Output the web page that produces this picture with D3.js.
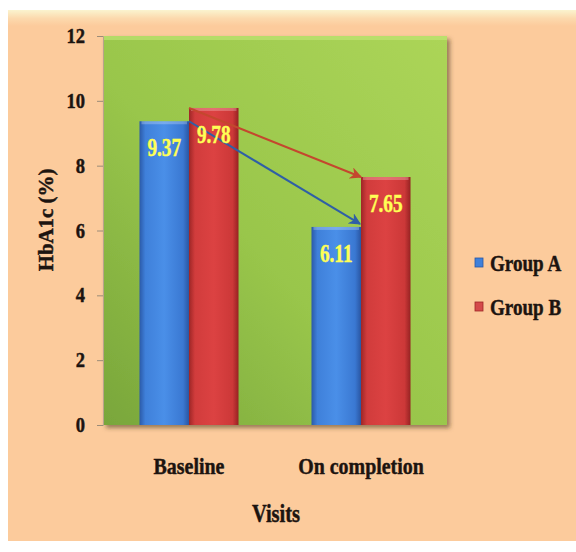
<!DOCTYPE html>
<html>
<head>
<meta charset="utf-8">
<script src="https://cdn.jsdelivr.net/npm/d3@7/dist/d3.min.js"></script>
<style>
  html, body { margin: 0; padding: 0; background: #ffffff; }
  svg { display: block; }
  text { font-family: "Liberation Serif", "Times New Roman", serif; font-weight: bold; }
</style>
</head>
<body>
<svg id="chart" width="576" height="552"></svg>
<script>
// HbA1c by visit and treatment group
const visits = ["Baseline", "On completion"];
const groups = ["Group A", "Group B"];
const groupA = [9.37, 6.11];
const groupB = [9.78, 7.65];
const yTicks = [0, 2, 4, 6, 8, 10, 12];

const W = 576, H = 552;
const plot = { left: 103, right: 447, top: 36, bottom: 425 };

const svg = d3.select("#chart");
const defs = svg.append("defs");

// gradients and shadow
function hGrad(id, stops) {
  const g = defs.append("linearGradient").attr("id", id)
    .attr("x1", "0%").attr("x2", "100%").attr("y1", "0%").attr("y2", "0%");
  stops.forEach(s => g.append("stop").attr("offset", s[0]).attr("stop-color", s[1]));
}
hGrad("gradA", [["0%", "#2b5aa8"], ["12%", "#3f80da"], ["50%", "#4a8fe8"], ["88%", "#3a78d2"], ["100%", "#2a56a2"]]);
hGrad("gradB", [["0%", "#9e2626"], ["12%", "#d13c3c"], ["50%", "#dc4242"], ["88%", "#cc3838"], ["100%", "#962222"]]);

const gGreen = defs.append("linearGradient").attr("id", "gradPlot")
  .attr("x1", "100%").attr("y1", "0%").attr("x2", "0%").attr("y2", "100%");
gGreen.append("stop").attr("offset", "0%").attr("stop-color", "#acd558");
gGreen.append("stop").attr("offset", "55%").attr("stop-color", "#99c64b");
gGreen.append("stop").attr("offset", "100%").attr("stop-color", "#79a63b");

const gPanel = defs.append("linearGradient").attr("id", "gradPanel")
  .attr("x1", "0%").attr("y1", "0%").attr("x2", "0%").attr("y2", "100%");
gPanel.append("stop").attr("offset", "0%").attr("stop-color", "#fbf4cf");
gPanel.append("stop").attr("offset", "1.6%").attr("stop-color", "#fcd9ad");
gPanel.append("stop").attr("offset", "3%").attr("stop-color", "#fccb9c");
gPanel.append("stop").attr("offset", "100%").attr("stop-color", "#fccb9c");

const shadow = defs.append("filter").attr("id", "shadow")
  .attr("x", "-5%").attr("y", "-5%").attr("width", "115%").attr("height", "115%");
shadow.append("feDropShadow").attr("dx", 3).attr("dy", 3).attr("stdDeviation", 2)
  .attr("flood-color", "#4a3a20").attr("flood-opacity", 0.55);

["arrowA", "arrowB"].forEach((id, i) => {
  defs.append("marker").attr("id", id)
    .attr("viewBox", "0 0 10 10").attr("refX", 9).attr("refY", 5)
    .attr("markerWidth", 6).attr("markerHeight", 6).attr("orient", "auto")
    .append("path").attr("d", "M0,0 L10,5 L0,10 L3,5 Z")
    .attr("fill", i === 0 ? "#2f5fa6" : "#c4472e");
});

// background panel
svg.append("rect").attr("x", 8).attr("y", 10).attr("width", W - 8).attr("height", 531)
  .attr("fill", "url(#gradPanel)");

// scales
const x0 = d3.scaleBand().domain(visits).range([plot.left, plot.right]).padding(0);
const x1 = d3.scaleBand().domain(groups).range([0, x0.bandwidth()]).paddingInner(0).paddingOuter(0.737);
const y = d3.scaleLinear().domain([0, 12]).range([plot.bottom, plot.top]);

// plot area
svg.append("rect")
  .attr("x", plot.left).attr("y", plot.top)
  .attr("width", plot.right - plot.left).attr("height", plot.bottom - plot.top)
  .attr("fill", "url(#gradPlot)").attr("filter", "url(#shadow)");
svg.append("rect")
  .attr("x", plot.left).attr("y", plot.top)
  .attr("width", plot.right - plot.left).attr("height", 4)
  .attr("fill", "#c4e87a").attr("opacity", 0.6);

// helper for condensed serif text
function label(g, str, xPos, yPos, size, anchor, sx, fill, rotate) {
  const col = fill || "#1c1410";
  const t = g.append("g")
    .attr("transform", `translate(${xPos},${yPos})` + (rotate ? ` rotate(${rotate})` : "") + ` scale(${sx},1)`);
  t.append("text").attr("text-anchor", anchor).attr("font-size", size)
    .attr("fill", col).attr("stroke", col).attr("stroke-width", 0.45).text(str);
  return t;
}

// y axis
const yAxis = svg.append("g").attr("transform", `translate(${plot.left},0)`)
  .call(d3.axisLeft(y).tickValues(yTicks).tickSize(6).tickFormat(""));
yAxis.select(".domain").attr("stroke", "#b7a48a").attr("stroke-width", 1);
yAxis.selectAll(".tick line").attr("stroke", "#9c8c78");
yTicks.forEach(v => label(svg, String(v), 85, y(v) + 7, 21, "end", 0.88));

// x axis labels
const xAxis = svg.append("g").attr("transform", `translate(0,${plot.bottom})`)
  .call(d3.axisBottom(x0).tickSize(0).tickFormat(""));
xAxis.select(".domain").remove();
visits.forEach(v => label(svg, v, x0(v) + x0.bandwidth() / 2, 474, 24, "middle", 0.83));

// bars
const series = [
  { name: groups[0], values: groupA, fill: "url(#gradA)" },
  { name: groups[1], values: groupB, fill: "url(#gradB)" }
];
const barG = svg.append("g");
series.forEach(s => {
  visits.forEach((v, i) => {
    const bx = x0(v) + x1(s.name);
    barG.append("rect")
      .attr("x", bx).attr("y", y(s.values[i]))
      .attr("width", x1.bandwidth()).attr("height", y(0) - y(s.values[i]))
      .attr("fill", s.fill);
    barG.append("rect")
      .attr("x", bx + 2).attr("y", y(s.values[i]))
      .attr("width", x1.bandwidth() - 4).attr("height", 3)
      .attr("fill", "#ffffff").attr("opacity", 0.25);
  });
});

// change arrows between visits
const arrows = svg.append("g").attr("fill", "none").attr("stroke-width", 2);
arrows.append("line")
  .attr("x1", x0(visits[0]) + x1(groups[0]) + x1.bandwidth()).attr("y1", y(groupA[0]))
  .attr("x2", x0(visits[1]) + x1(groups[0]) + x1.bandwidth() - 1).attr("y2", y(groupA[1]) - 3)
  .attr("stroke", "#2f5fa6").attr("marker-end", "url(#arrowA)");
arrows.append("line")
  .attr("x1", x0(visits[0]) + x1(groups[1])).attr("y1", y(groupB[0]))
  .attr("x2", x0(visits[1]) + x1(groups[1])).attr("y2", y(groupB[1]))
  .attr("stroke", "#c4472e").attr("marker-end", "url(#arrowB)");

// value labels
series.forEach(s => {
  visits.forEach((v, i) => {
    label(svg, s.values[i].toFixed(2), x0(v) + x1(s.name) + x1.bandwidth() / 2,
      y(s.values[i]) + 35, 25, "middle", 0.77, "#ffff55");
  });
});

// axis titles
label(svg, "HbA1c (%)", 53, 220, 22, "middle", 0.95, null, -90);
label(svg, "Visits", 276, 522, 25, "middle", 0.82);

// legend
const legendFills = ["#3f80da", "#d44a4a"];
groups.forEach((g, i) => {
  const ly = 271 + i * 44;
  svg.append("rect").attr("x", 475).attr("y", ly - 13).attr("width", 8).attr("height", 9)
    .attr("fill", legendFills[i]).attr("stroke", i === 0 ? "#2a56a2" : "#9e2626").attr("stroke-width", 0.8);
  label(svg, g, 490, ly, 23, "start", 0.83);
});
</script>
</body>
</html>
